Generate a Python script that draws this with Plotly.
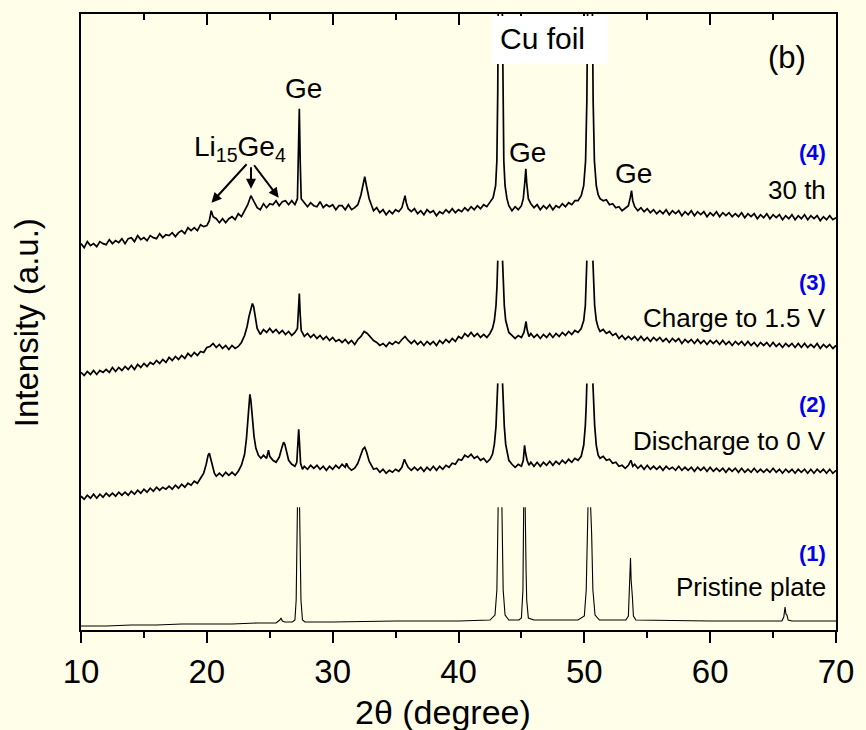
import plotly.graph_objects as go

# ---------------- data (y in a.u.) ----------------
c1 = [(10.0,4),(12.0,4),(14.0,5),(16.0,5),(18.0,6),(20.0,6),(22.0,6),(24.0,7),(25.5,7),(25.8,10),(25.9,12),
      (26.0,9),(26.2,8),(26.8,8),(27.0,10),(27.1,30),(27.17,90),(27.2,123),(27.28,None),(27.37,123),(27.4,90),
      (27.48,30),(27.6,10),(27.8,8),(30.0,8),(35.0,9),(40.0,9),(42.5,10),(42.9,15),(43.05,40),(43.15,123),
      (43.3,None),(43.45,123),(43.55,40),(43.7,15),(44.0,10),(44.8,10),(45.0,12),(45.12,40),(45.18,123),
      (45.24,None),(45.3,123),(45.33,62),(45.37,60),(45.42,30),(45.55,12),(46.0,10),(49.5,10),(50.0,14),
      (50.15,40),(50.29,123),(50.4,None),(50.5,123),(50.53,100),(50.58,97),(50.68,40),(50.85,15),(51.2,10),
      (53.3,10),(53.5,14),(53.6,50),(53.67,72),(53.72,50),(53.76,36),(53.82,33),(53.9,14),(54.1,10),
      (60.0,9),(65.7,9),(65.85,13),(65.95,23),(66.02,16),(66.1,15),(66.2,10),(66.5,9),(70.0,9)]

c2 = [(10.0,134),(10.25,131),(10.5,135),(10.75,132),(11.0,136),(11.25,132),(11.5,136),(11.75,133),
      (12.0,137),(12.25,134),(12.5,137),(12.75,134),(13.0,138),(13.25,135),(13.5,138),(13.75,135),
      (14.0,139),(14.25,136),(14.5,140),(14.75,137),(15.0,141),(15.25,138),(15.5,142),(15.75,139),
      (16.0,143),(16.25,140),(16.5,143),(16.75,141),(17.0,144),(17.25,141),(17.5,145),(17.75,142),
      (18.0,146),(18.25,143),(18.5,147),(18.75,145),(19.0,149),(19.25,147),(19.5,152),(19.75,157),
      (19.95,166),(20.1,175),(20.2,177),(20.3,172),(20.45,163),(20.6,157),(20.75,154),(21.0,157),
      (21.25,154),(21.5,158),(21.75,155),(22.0,158),(22.25,155),(22.5,159),(22.75,165),(23.0,176),
      (23.15,192),(23.3,215),(23.42,236),(23.5,230),(23.6,212),(23.75,194),(23.9,182),(24.1,175),
      (24.3,172),(24.5,175),(24.75,172),(24.9,180),(25.0,174),(25.25,170),(25.5,168),(25.75,173),
      (25.95,182),(26.1,188),(26.2,186),(26.35,178),(26.5,170),(26.75,166),(27.0,164),(27.15,168),
      (27.25,190),(27.3,201),(27.36,188),(27.45,167),(27.6,161),(27.75,164),(28.0,161),(28.25,165),
      (28.5,162),(28.75,165),(29.0,161),(29.25,164),(29.5,160),(29.75,164),(30.0,161),(30.25,165),
      (30.5,162),(30.75,166),(31.0,163),(31.1,167),(31.25,163),(31.5,160),(31.75,162),(32.0,167),
      (32.2,174),(32.4,181),(32.55,183),(32.7,178),(32.9,169),(33.1,164),(33.25,161),(33.5,162),
      (33.75,158),(34.0,161),(34.25,157),(34.5,160),(34.75,158),(35.0,161),(35.25,159),(35.5,163),
      (35.7,171),(35.8,168),(36.0,163),(36.25,160),(36.5,163),(36.75,160),(37.0,163),(37.25,159),
      (37.5,163),(37.75,160),(38.0,164),(38.25,160),(38.5,164),(38.75,161),(39.0,165),(39.25,163),
      (39.5,167),(39.75,166),(40.0,171),(40.25,170),(40.5,175),(40.75,173),(41.0,176),(41.25,172),
      (41.5,174),(41.75,170),(42.0,172),(42.25,168),(42.5,171),(42.7,176),(42.85,186),(42.98,204),
      (43.06,222),(43.12,247),(43.3,None),(43.5,247),(43.56,222),(43.64,204),(43.75,186),(43.9,174),
      (44.0,170),(44.25,166),(44.5,163),(44.75,166),(45.0,164),(45.15,170),(45.25,185),(45.32,178),
      (45.45,170),(45.6,165),(45.75,168),(46.0,164),(46.25,168),(46.5,164),(46.75,168),(47.0,165),
      (47.25,169),(47.5,165),(47.75,169),(48.0,166),(48.25,170),(48.5,167),(48.75,171),(49.0,168),
      (49.25,172),(49.5,170),(49.75,174),(49.95,185),(50.08,205),(50.15,225),(50.2,247),(50.45,None),
      (50.68,247),(50.74,225),(50.82,205),(50.95,185),(51.1,175),(51.25,172),(51.5,174),(51.75,170),
      (52.0,171),(52.25,167),(52.5,168),(52.75,164),(53.0,165),(53.25,162),(53.5,165),(53.7,170),
      (53.85,164),(54.0,166),(54.25,162),(54.5,165),(54.75,161),(55.0,165),(55.25,161),(55.5,164),
      (55.75,161),(56.0,164),(56.25,160),(56.5,164),(56.75,161),(57.0,163),(57.25,160),(57.5,164),
      (57.75,160),(58.0,163),(58.25,160),(58.5,163),(58.75,159),(59.0,163),(59.25,160),(59.5,163),
      (59.75,159),(60.0,163),(60.25,159),(60.5,162),(60.75,159),(61.0,162),(61.25,158),(61.5,162),
      (61.75,159),(62.0,162),(62.25,158),(62.5,162),(62.75,158),(63.0,161),(63.25,158),(63.5,162),
      (63.75,158),(64.0,161),(64.25,158),(64.5,161),(64.75,158),(65.0,162),(65.25,158),(65.5,161),
      (65.75,157),(66.0,161),(66.25,158),(66.5,161),(66.75,157),(67.0,161),(67.25,158),(67.5,161),
      (67.75,157),(68.0,161),(68.25,157),(68.5,161),(68.75,158),(69.0,161),(69.25,157),(69.5,161),
      (69.75,157),(70.0,160)]

c3 = [(10.0,258),(10.25,255),(10.5,259),(10.75,256),(11.0,260),(11.25,256),(11.5,260),(11.75,258),
      (12.0,261),(12.25,258),(12.5,263),(12.75,259),(13.0,263),(13.25,260),(13.5,264),(13.75,261),
      (14.0,265),(14.25,261),(14.5,266),(14.75,263),(15.0,267),(15.25,264),(15.5,268),(15.75,266),
      (16.0,270),(16.25,267),(16.5,271),(16.75,268),(17.0,273),(17.25,270),(17.5,274),(17.75,271),
      (18.0,275),(18.25,272),(18.5,277),(18.75,274),(19.0,278),(19.25,275),(19.5,279),(19.75,278),
      (20.0,283),(20.25,284),(20.5,287),(20.75,283),(21.0,286),(21.25,282),(21.5,285),(21.75,281),
      (22.0,285),(22.25,282),(22.5,284),(22.75,288),(23.0,295),(23.2,304),(23.35,314),(23.5,322),
      (23.62,327),(23.72,324),(23.85,313),(24.0,302),(24.25,296),(24.5,301),(24.75,298),(25.0,302),
      (25.25,298),(25.5,301),(25.75,297),(26.0,300),(26.25,296),(26.5,299),(26.75,295),(27.0,298),
      (27.2,302),(27.28,318),(27.35,337),(27.42,316),(27.5,300),(27.75,294),(28.0,297),(28.25,293),
      (28.5,296),(28.75,292),(29.0,295),(29.25,291),(29.5,294),(29.75,290),(30.0,293),(30.25,289),
      (30.5,291),(30.75,288),(31.0,291),(31.25,287),(31.5,290),(31.75,286),(32.0,291),(32.25,294),
      (32.5,299),(32.75,297),(33.0,293),(33.25,290),(33.5,288),(33.75,285),(34.0,287),(34.25,284),
      (34.5,288),(34.75,286),(35.0,289),(35.25,287),(35.5,291),(35.75,294),(36.0,290),(36.25,287),
      (36.5,290),(36.75,286),(37.0,289),(37.25,285),(37.5,289),(37.75,286),(38.0,289),(38.25,285),
      (38.5,290),(38.75,287),(39.0,291),(39.25,288),(39.5,292),(39.75,289),(40.0,294),(40.25,292),
      (40.5,297),(40.75,294),(41.0,298),(41.25,294),(41.5,297),(41.75,293),(42.0,296),(42.25,293),
      (42.5,297),(42.7,302),(42.85,310),(42.98,325),(43.06,345),(43.12,370),(43.3,None),(43.5,370),
      (43.56,345),(43.64,325),(43.75,310),(43.9,302),(44.0,298),(44.25,295),(44.5,292),(44.75,295),
      (45.0,293),(45.2,298),(45.3,306),(45.37,309),(45.45,301),(45.6,294),(45.75,297),(46.0,293),
      (46.25,296),(46.5,292),(46.75,296),(47.0,293),(47.25,297),(47.5,293),(47.75,297),(48.0,294),
      (48.25,298),(48.5,295),(48.75,299),(49.0,296),(49.25,300),(49.5,298),(49.75,302),(49.95,310),
      (50.08,325),(50.15,345),(50.2,370),(50.45,None),(50.68,370),(50.74,345),(50.82,325),(50.95,310),
      (51.1,303),(51.25,299),(51.5,301),(51.75,297),(52.0,299),(52.25,295),(52.5,297),(52.75,292),
      (53.0,295),(53.25,291),(53.5,294),(53.75,291),(54.0,294),(54.25,290),(54.5,294),(54.75,290),
      (55.0,293),(55.25,289),(55.5,293),(55.75,290),(56.0,293),(56.25,289),(56.5,292),(56.75,288),
      (57.0,292),(57.25,289),(57.5,292),(57.75,287),(58.0,291),(58.25,288),(58.5,291),(58.75,287),
      (59.0,291),(59.25,287),(59.5,290),(59.75,286),(60.0,290),(60.25,287),(60.5,290),(60.75,286),
      (61.0,290),(61.25,286),(61.5,289),(61.75,285),(62.0,289),(62.25,286),(62.5,289),(62.75,285),
      (63.0,289),(63.25,285),(63.5,288),(63.75,284),(64.0,288),(64.25,285),(64.5,288),(64.75,284),
      (65.0,288),(65.25,284),(65.5,287),(65.75,283),(66.0,287),(66.25,284),(66.5,287),(66.75,283),
      (67.0,287),(67.25,283),(67.5,287),(67.75,283),(68.0,286),(68.25,283),(68.5,287),(68.75,282),
      (69.0,286),(69.25,283),(69.5,286),(69.75,282),(70.0,285)]

c4 = [(10.0,387),(10.25,383),(10.5,389),(10.75,385),(11.0,387),(11.25,384),(11.5,389),(11.75,387),
      (12.0,386),(12.25,391),(12.5,387),(12.75,390),(13.0,388),(13.25,392),(13.5,387),(13.75,392),
      (14.0,393),(14.25,389),(14.5,395),(14.75,391),(15.0,393),(15.25,390),(15.5,395),(15.75,393),
      (16.0,392),(16.25,397),(16.5,393),(16.75,396),(17.0,395),(17.25,398),(17.5,394),(17.75,398),
      (18.0,400),(18.25,397),(18.5,403),(18.75,400),(19.0,403),(19.25,400),(19.5,406),(19.75,404),
      (20.0,405),(20.2,410),(20.35,420),(20.5,414),(20.75,412),(21.0,408),(21.25,412),(21.5,408),
      (21.75,412),(22.0,414),(22.25,411),(22.5,417),(22.75,414),(23.0,420),(23.25,426),(23.5,435),
      (23.75,429),(24.0,423),(24.25,421),(24.5,427),(24.75,423),(25.0,427),(25.25,426),(25.5,430),
      (25.75,425),(26.0,429),(26.25,430),(26.5,426),(26.75,430),(27.0,426),(27.2,432),(27.28,470),
      (27.35,522),(27.42,470),(27.5,432),(27.75,428),(28.0,424),(28.25,428),(28.5,425),(28.75,424),
      (29.0,429),(29.25,423),(29.5,426),(29.75,424),(30.0,426),(30.25,421),(30.5,425),(30.75,425),
      (31.0,421),(31.25,426),(31.5,421),(31.75,423),(32.0,426),(32.25,436),(32.45,450),(32.55,454),
      (32.7,444),(32.9,432),(33.1,425),(33.25,420),(33.5,423),(33.75,418),(34.0,421),(34.25,416),
      (34.5,420),(34.75,417),(35.0,421),(35.25,419),(35.5,423),(35.65,430),(35.75,435),(35.85,428),
      (36.0,422),(36.25,419),(36.5,422),(36.75,417),(37.0,420),(37.25,416),(37.5,421),(37.75,418),
      (38.0,420),(38.25,415),(38.5,419),(38.75,417),(39.0,421),(39.25,418),(39.5,422),(39.75,418),
      (40.0,421),(40.25,419),(40.5,423),(40.75,420),(41.0,424),(41.25,421),(41.5,425),(41.75,422),
      (42.0,426),(42.25,424),(42.5,429),(42.75,433),(42.95,445),(43.05,470),(43.12,540),(43.18,650),
      (43.24,800),(43.32,1000),(43.4,800),(43.46,650),(43.52,540),(43.6,470),(43.7,445),(43.85,432),
      (44.0,425),(44.25,420),(44.5,424),(44.75,421),(45.0,425),(45.15,432),(45.28,450),(45.35,462),
      (45.42,448),(45.55,432),(45.75,427),(46.0,423),(46.25,426),(46.5,421),(46.75,425),(47.0,422),
      (47.25,426),(47.5,421),(47.75,425),(48.0,423),(48.25,427),(48.5,424),(48.75,428),(49.0,426),
      (49.25,430),(49.5,430),(49.75,435),(49.95,445),(50.1,470),(50.2,530),(50.28,650),(50.36,800),
      (50.45,1000),(50.54,800),(50.62,650),(50.7,530),(50.8,470),(50.95,445),(51.1,436),(51.25,432),
      (51.5,430),(51.75,431),(52.0,426),(52.25,427),(52.5,423),(52.75,424),(53.0,420),(53.25,423),
      (53.5,425),(53.65,433),(53.75,440),(53.85,430),(54.0,424),(54.25,420),(54.5,423),(54.75,419),
      (55.0,422),(55.25,418),(55.5,421),(55.75,417),(56.0,420),(56.25,417),(56.5,421),(56.75,416),
      (57.0,420),(57.25,417),(57.5,420),(57.75,415),(58.0,419),(58.25,416),(58.5,420),(58.75,415),
      (59.0,419),(59.25,416),(59.5,419),(59.75,414),(60.0,418),(60.25,415),(60.5,419),(60.75,414),
      (61.0,418),(61.25,415),(61.5,418),(61.75,414),(62.0,417),(62.25,414),(62.5,418),(62.75,413),
      (63.0,417),(63.25,414),(63.5,417),(63.75,412),(64.0,416),(64.25,413),(64.5,417),(64.75,412),
      (65.0,416),(65.25,413),(65.5,416),(65.75,411),(66.0,415),(66.25,412),(66.5,416),(66.75,411),
      (67.0,415),(67.25,412),(67.5,416),(67.75,411),(68.0,415),(68.25,412),(68.5,415),(68.75,410),
      (69.0,414),(69.25,411),(69.5,415),(69.75,411),(70.0,413)]

curve_names = ["(1)", "(2)", "(3)", "(4)"]
curve_desc = ["Pristine plate", "Discharge to 0 V", "Charge to 1.5 V", "30 th"]
tick_vals = [10, 20, 30, 40, 50, 60, 70]
tick_text = ["10", "20", "30", "40", "50", "60", "70"]

FONT = "Liberation Sans, Arial, sans-serif"
BG = "#fffee8"

fig = go.Figure()
for c, w in [(c1, 1.1), (c2, 1.7), (c3, 1.7), (c4, 1.7)]:
    fig.add_trace(go.Scatter(x=[p[0] for p in c], y=[p[1] for p in c], mode="lines",
                             line=dict(color="black", width=w), connectgaps=False,
                             showlegend=False, hoverinfo="skip"))
# invisible trace to activate the top (mirror) axis
fig.add_trace(go.Scatter(x=[10, 70], y=[0, 0], xaxis="x2", mode="lines",
                         line=dict(width=0), opacity=0, showlegend=False, hoverinfo="skip"))

ann = []
lab_pos = [(77, 43), (226, 189), (348, 313), (478, 441)]
for name, desc, (yn, yd) in zip(curve_names, curve_desc, lab_pos):
    ann.append(dict(x=69.4, y=yn, text="<b>%s</b>" % name, showarrow=False, xanchor="right",
                    yanchor="middle", font=dict(family=FONT, size=22, color="#0000ee")))
    ann.append(dict(x=69.4, y=yd, text=desc, showarrow=False, xanchor="right",
                    yanchor="middle", font=dict(family=FONT, size=26, color="black")))

for gx, gy in [(27.67, 542), (45.5, 478), (53.9, 457)]:
    ann.append(dict(x=gx, y=gy, text="Ge", showarrow=False, xanchor="center", yanchor="middle",
                    font=dict(family=FONT, size=28, color="black")))

ann.append(dict(x=22.64, y=482, text="Li<sub>15</sub>Ge<sub>4</sub>", showarrow=False,
                xanchor="center", yanchor="middle", font=dict(family=FONT, size=28, color="black")))
for (hx, hy), (tx, ty) in [((20.37, 428), (23.27, 468)), ((23.51, 442), (23.51, 465)),
                           ((25.71, 433), (23.67, 467))]:
    ann.append(dict(x=hx, y=hy, ax=tx, ay=ty, axref="x", ayref="y", xref="x", yref="y", text="",
                    showarrow=True, arrowhead=2, arrowsize=1, arrowwidth=2, arrowcolor="black"))

ann.append(dict(x=66.07, y=573, text="(b)", showarrow=False, xanchor="center", yanchor="middle",
                font=dict(family=FONT, size=31, color="black")))
ann.append(dict(x=46.64, y=592, text="Cu foil", showarrow=False, xanchor="center", yanchor="middle",
                font=dict(family=FONT, size=30, color="black")))

ann.append(dict(xref="paper", yref="paper", x=-0.072, y=0.499, text="Intensity (a.u.)",
                textangle=-90, showarrow=False, xanchor="center", yanchor="middle",
                font=dict(family=FONT, size=33, color="black")))
ann.append(dict(xref="paper", yref="paper", x=0.479, y=-0.133, text="2θ (degree)",
                showarrow=False, xanchor="center", yanchor="middle",
                font=dict(family=FONT, size=34, color="black")))

fig.update_layout(
    width=866, height=730,
    margin=dict(l=81, r=21, t=13, b=100),
    paper_bgcolor=BG, plot_bgcolor=BG,
    showlegend=False,
    annotations=ann,
    shapes=[dict(type="rect", xref="x", yref="y", x0=42.67, x1=51.86, y0=567, y1=615,
                 fillcolor="white", line=dict(width=0), layer="above")],
    xaxis=dict(range=[10, 70], tickvals=tick_vals, ticktext=tick_text, ticks="outside",
               ticklen=11, tickwidth=2, tickcolor="black", showline=True, linewidth=2,
               linecolor="black", mirror=True, showgrid=False, zeroline=False,
               tickfont=dict(family=FONT, size=33, color="black"),
               minor=dict(tickvals=[15, 25, 35, 45, 55, 65], ticks="outside", ticklen=6,
                          tickwidth=2, tickcolor="black", showgrid=False)),
    xaxis2=dict(range=[10, 70], overlaying="x", side="top", anchor="y", tickvals=tick_vals,
                ticks="inside", ticklen=11, tickwidth=2, tickcolor="black", showticklabels=False,
                showline=False, showgrid=False, zeroline=False,
                minor=dict(tickvals=[15, 25, 35, 45, 55, 65], ticks="inside", ticklen=6,
                           tickwidth=2, tickcolor="black", showgrid=False)),
    yaxis=dict(range=[0, 617], showline=True, linewidth=2, linecolor="black", mirror=True,
               ticks="", showticklabels=False, showgrid=False, zeroline=False),
)

fig.write_html("out.html")
